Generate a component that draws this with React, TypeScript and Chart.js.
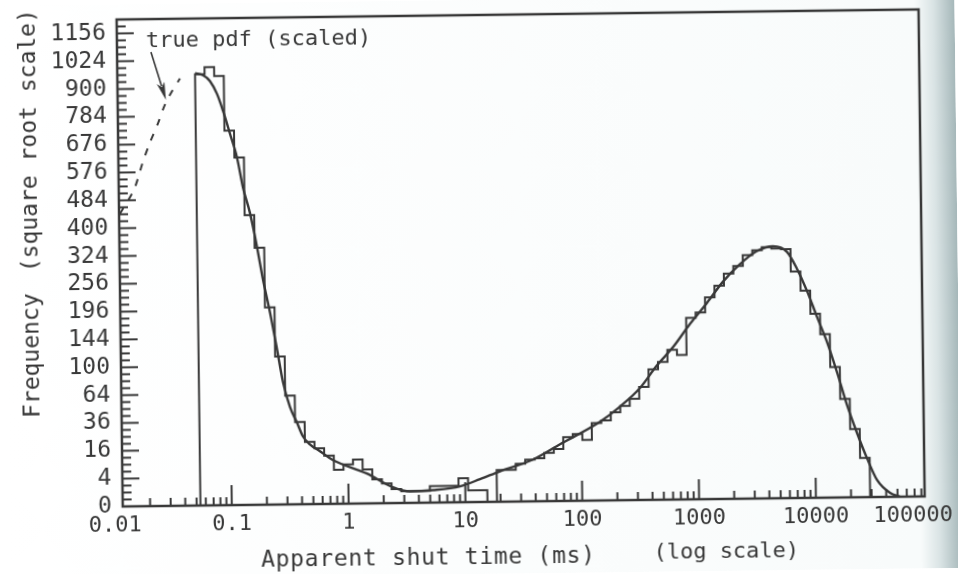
import React, { useEffect, useRef } from 'react';
import { Chart, registerables } from 'chart.js';

Chart.register(...registerables);

// ---------- axes ----------
const xMin = 0.01165;
const xMax = 85300;
const xTickValues = [0.01, 0.1, 1, 10, 100, 1000, 10000, 100000];
const xTickLabels = ['0.01', '0.1', '1', '10', '100', '1000', '10000', '100000'];
const yTickValues = [0, 4, 16, 36, 64, 100, 144, 196, 256, 324, 400, 484, 576, 676, 784, 900, 1024, 1156];
const yTickLabels = ['0', '4', '16', '36', '64', '100', '144', '196', '256', '324', '400', '484', '576', '676', '784', '900', '1024', '1156'];
const ySqrtMax = 35;

// ---------- histogram (log-spaced bins, counts) ----------
const histStart = 0.0539; // ms, lower edge of first bin
const histEnd = 29130; // ms, upper edge of last bin
const histCounts = [
  961, 992, 952, 724, 624, 434, 341, 201, 113, 61,
  35, 20, 16, 12, 6, 8, 10, 6, 3, 2,
  1, 0.7, 0.7, 0.7, 1.4, 1.4, 1.4, 3, 0.7, 0.7,
  0, 5.2, 5.2, 7.4, 9, 9.5, 12, 14, 21, 23,
  19, 31, 33, 40, 46, 53, 66, 88, 98, 116,
  108, 170, 180, 210, 235, 262, 280, 306, 318, 326,
  322, 320, 265, 222, 175, 138, 88, 50, 24, 8,
];

// ---------- fitted curve ----------
const curveTime = [
  0.0539, 0.063, 0.0722, 0.0827, 0.0926, 0.1057, 0.1207, 0.1348, 0.1538, 0.175,
  0.1954, 0.2226, 0.2532, 0.2826, 0.3225, 0.3686, 0.4136, 0.4739, 0.576, 0.743,
  1.447, 2.407, 3.363, 5.293, 9.02, 13.41, 19.92, 38.28, 65.42, 144.7,
  215.4, 320.9, 451.1, 621.3, 873.4, 1227, 1686, 2348, 3266, 4571,
  6015, 7295, 8835, 10690, 12940, 15640, 18900, 22850, 27660, 33500,
  43150, 52520,
];
const curveFreq = [
  965, 956, 930, 874, 804, 713, 624, 521, 440, 344,
  262, 191, 125, 77.5, 49, 34.5, 23.7, 18.4, 14.4, 9.9,
  4.6, 1.3, 0.68, 0.8, 1.3, 2.7, 4.8, 9.0, 16.6, 32,
  45.3, 64.8, 93.4, 120, 159, 199, 243.5, 283, 315, 328,
  313, 271, 221, 169, 125, 81, 44, 21.3, 7.8, 1.5,
  0.08, 0,
];

// ---------- true pdf (dashed, scaled) ----------
const truePdfTime = [0.01186, 0.01572, 0.0189, 0.02181, 0.02565, 0.02959, 0.03406, 0.04002];
const truePdfFreq = [443, 518, 613, 683, 756, 832, 887, 943];

// ---------- texts ----------
const xTitleMain = 'Apparent shut time (ms)';
const xTitleNote = '(log scale)';
const yTitleMain = 'Frequency';
const yTitleNote = '(square root scale)';
const annotationText = 'true pdf (scaled)';
const annotationAt = { x: 0.02063, y: 1089 };
const arrowFrom = { x: 0.02274, y: 1065 };
const arrowTo = { x: 0.03019, y: 851 };

const INK = '#383838';
const FONT = '"DejaVu Sans Mono", "Liberation Mono", monospace';

const decorPlugin = {
  id: 'decor',
  beforeDraw(chart: any) {
    const { ctx, width, height } = chart;
    ctx.save();
    const g = ctx.createLinearGradient(0, 0, width, 0);
    g.addColorStop(0, '#ffffff');
    g.addColorStop(0.958, '#f8fbfb');
    g.addColorStop(0.978, '#d9e3e4');
    g.addColorStop(1, '#a5b7b9');
    ctx.fillStyle = g;
    ctx.fillRect(-20, -20, width + 40, height + 40);
    ctx.restore();
  },
  afterDatasetsDraw(chart: any) {
    const { ctx, chartArea } = chart;
    const xs = chart.scales.x;
    const ys = chart.scales.y;
    const { left, right, top, bottom } = chartArea;
    ctx.save();
    ctx.strokeStyle = INK;
    ctx.lineCap = 'butt';
    ctx.lineWidth = 2;
    // y ticks (inward), every 0.5 sqrt-unit
    for (let k = 1; k < ySqrtMax * 2; k++) {
      const yp = ys.getPixelForValue(k * 0.5);
      const len = k % 4 === 0 ? 17 : 9;
      ctx.beginPath();
      ctx.moveTo(left, yp);
      ctx.lineTo(left + len, yp);
      ctx.stroke();
    }
    // x ticks (inward)
    for (let d = -2; d <= 4; d++) {
      for (let m = 1; m <= 9; m++) {
        const v = m * Math.pow(10, d);
        if (v <= xMin || v >= xMax) continue;
        const xp = xs.getPixelForValue(v);
        const len = m === 1 ? 20 : 8;
        ctx.beginPath();
        ctx.moveTo(xp, bottom);
        ctx.lineTo(xp, bottom - len);
        ctx.stroke();
      }
    }
    // frame
    ctx.lineWidth = 2.5;
    ctx.strokeRect(left, top, right - left, bottom - top);
    ctx.restore();
  },
  afterDraw(chart: any) {
    const { ctx, chartArea } = chart;
    const xs = chart.scales.x;
    const ys = chart.scales.y;
    ctx.save();
    ctx.fillStyle = INK;
    ctx.strokeStyle = INK;

    // x tick labels
    ctx.font = `22px ${FONT}`;
    ctx.textAlign = 'center';
    ctx.textBaseline = 'top';
    xTickValues.forEach((v, i) => {
      const w = ctx.measureText(xTickLabels[i]).width;
      let px = xs.getPixelForValue(v);
      px = Math.min(Math.max(px, w / 2 + 1), chart.width - w / 2 - 8);
      ctx.fillText(xTickLabels[i], px, chartArea.bottom + 8);
    });

    // axis titles
    ctx.textBaseline = 'alphabetic';
    ctx.font = `23px ${FONT}`;
    (ctx as any).letterSpacing = '0.7px';
    ctx.fillText(xTitleMain, 425, 564);
    (ctx as any).letterSpacing = '0px';
    ctx.font = `22px ${FONT}`;
    ctx.fillText(xTitleNote, 723, 561);
    ctx.font = `23px ${FONT}`;
    ctx.save();
    ctx.translate(37.5, 350);
    ctx.rotate(-Math.PI / 2);
    ctx.fillText(yTitleMain, 0, 0);
    ctx.restore();
    ctx.save();
    ctx.translate(37.5, 135);
    ctx.rotate(-Math.PI / 2);
    ctx.fillText(yTitleNote, 0, 0);
    ctx.restore();

    // annotation
    ctx.font = `22px ${FONT}`;
    ctx.textAlign = 'left';
    ctx.fillText(annotationText, xs.getPixelForValue(annotationAt.x), ys.getPixelForValue(Math.sqrt(annotationAt.y)));

    // arrow
    const x0 = xs.getPixelForValue(arrowFrom.x);
    const y0 = ys.getPixelForValue(Math.sqrt(arrowFrom.y));
    const x1 = xs.getPixelForValue(arrowTo.x);
    const y1 = ys.getPixelForValue(Math.sqrt(arrowTo.y));
    const ang = Math.atan2(y1 - y0, x1 - x0);
    const hl = 18;
    const hw = 4;
    const c = Math.cos(ang);
    const s = Math.sin(ang);
    ctx.lineWidth = 1.6;
    ctx.beginPath();
    ctx.moveTo(x0, y0);
    ctx.lineTo(x1 - c * hl * 0.8, y1 - s * hl * 0.8);
    ctx.stroke();
    ctx.beginPath();
    ctx.moveTo(x1, y1);
    ctx.lineTo(x1 - c * hl + s * hw, y1 - s * hl - c * hw);
    ctx.lineTo(x1 - c * hl * 0.75, y1 - s * hl * 0.75);
    ctx.lineTo(x1 - c * hl - s * hw, y1 - s * hl + c * hw);
    ctx.closePath();
    ctx.fill();
    ctx.restore();
  },
};

export default function App() {
  const canvasRef = useRef<HTMLCanvasElement | null>(null);

  useEffect(() => {
    document.body.style.margin = '0';
    document.body.style.overflow = 'hidden';
    const canvas = canvasRef.current;
    if (!canvas) return;

    const n = histCounts.length;
    const edges: number[] = [];
    for (let k = 0; k <= n; k++) {
      edges.push(histStart * Math.pow(histEnd / histStart, k / n));
    }
    const histPoints: { x: number; y: number }[] = [{ x: edges[0], y: 0 }];
    histCounts.forEach((cnt, k) => {
      const sq = Math.sqrt(cnt);
      histPoints.push({ x: edges[k], y: sq });
      histPoints.push({ x: edges[k + 1], y: sq });
    });
    histPoints.push({ x: edges[n], y: 0 });

    const curvePoints = curveTime.map((t, i) => ({ x: t, y: Math.sqrt(curveFreq[i]) }));
    const truePoints = truePdfTime.map((t, i) => ({ x: t, y: Math.sqrt(truePdfFreq[i]) }));

    const chart = new Chart(canvas, {
      type: 'line',
      data: {
        datasets: [
          {
            label: 'histogram',
            data: histPoints,
            borderColor: INK,
            borderWidth: 2,
            pointRadius: 0,
            tension: 0,
            fill: false,
          },
          {
            label: 'fit',
            data: curvePoints,
            borderColor: INK,
            borderWidth: 2.4,
            pointRadius: 0,
            cubicInterpolationMode: 'monotone',
            fill: false,
          },
          {
            label: 'true pdf',
            data: truePoints,
            borderColor: INK,
            borderWidth: 2,
            borderDash: [7, 9],
            pointRadius: 0,
            tension: 0.3,
            fill: false,
          },
        ],
      } as any,
      options: {
        animation: false,
        responsive: false,
        devicePixelRatio: 1,
        layout: { padding: { top: 15, right: 36, left: 0, bottom: 0 } },
        plugins: { legend: { display: false }, tooltip: { enabled: false } },
        scales: {
          x: {
            type: 'logarithmic',
            min: xMin,
            max: xMax,
            position: 'bottom',
            grid: { display: false, drawTicks: false },
            border: { display: false },
            afterBuildTicks: (sc: any) => {
              sc.ticks = xTickValues.map((v) => ({ value: v }));
            },
            afterFit: (sc: any) => {
              sc.height = 72;
              sc.paddingLeft = 0;
              sc.paddingRight = 0;
            },
            ticks: { display: false, autoSkip: false, maxRotation: 0, minRotation: 0 },
          },
          y: {
            type: 'linear',
            min: 0,
            max: ySqrtMax,
            grid: { display: false, drawTicks: false },
            border: { display: false },
            afterBuildTicks: (sc: any) => {
              sc.ticks = yTickValues.map((v) => ({ value: Math.sqrt(v) }));
            },
            afterFit: (sc: any) => {
              sc.width = 120;
              sc.paddingTop = 0;
              sc.paddingBottom = 0;
            },
            ticks: {
              autoSkip: false,
              padding: 11,
              color: INK,
              font: { family: FONT, size: 23 },
              callback: (_v: any, i: number) => yTickLabels[i],
            },
          },
        },
      } as any,
      plugins: [decorPlugin],
    });

    return () => {
      chart.destroy();
    };
  }, []);

  return (
    <div style={{ width: 958, height: 574, overflow: 'hidden', background: '#ffffff' }}>
      <canvas
        ref={canvasRef}
        width={958}
        height={574}
        style={{ display: 'block', transform: 'rotate(-0.72deg)', transformOrigin: '50% 50%' }}
      />
    </div>
  );
}
